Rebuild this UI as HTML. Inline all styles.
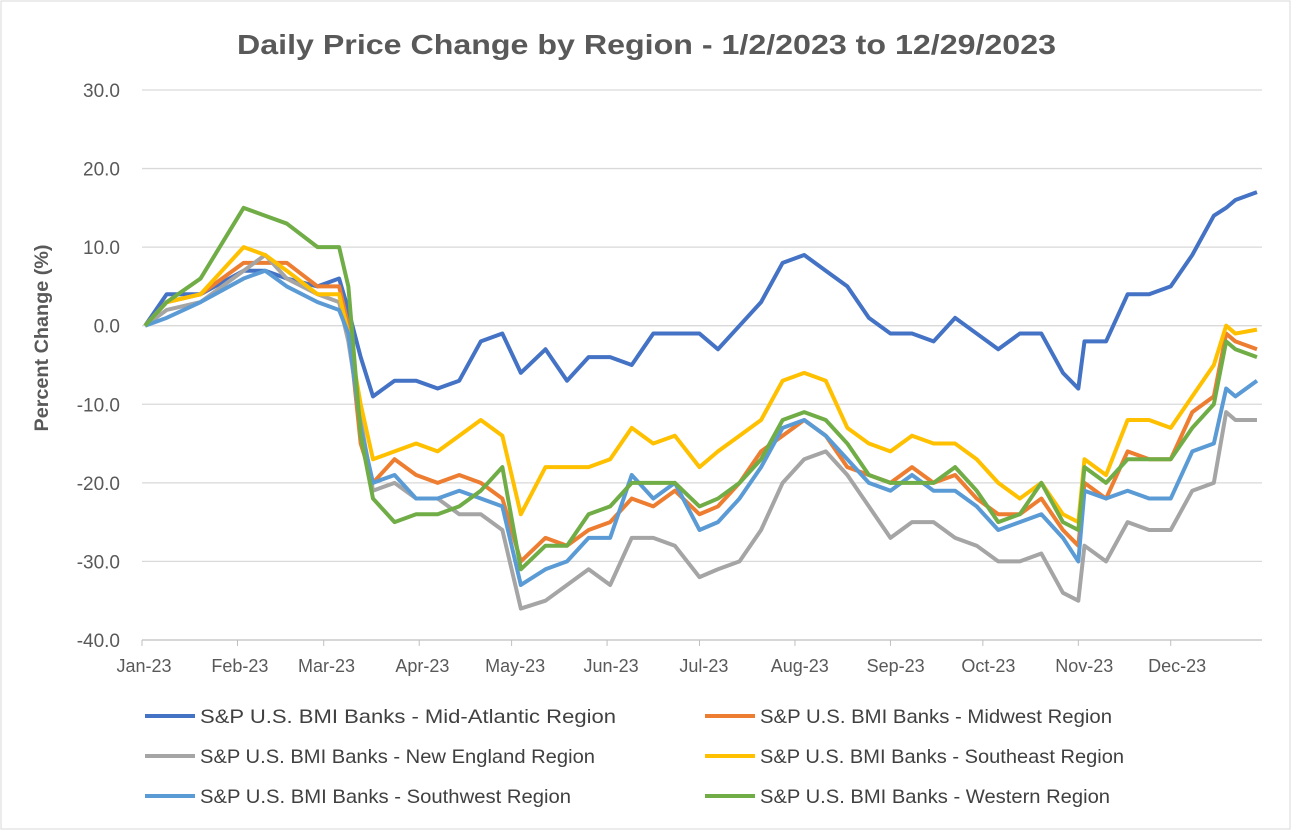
<!DOCTYPE html>
<html><head><meta charset="utf-8"><style>
body{margin:0;background:#fff;}
svg{display:block;font-family:"Liberation Sans",sans-serif;}
</style></head><body>
<svg id="chart" width="1292" height="831">
<rect x="1" y="1" width="1289" height="828" fill="#fff" stroke="#d9d9d9"/>
<text x="237" y="54" font-size="28" font-weight="bold" fill="#595959" textLength="819" lengthAdjust="spacingAndGlyphs">Daily Price Change by Region - 1/2/2023 to 12/29/2023</text>
<text transform="translate(48,338) rotate(-90)" text-anchor="middle" font-size="19" font-weight="bold" fill="#595959" textLength="187" lengthAdjust="spacingAndGlyphs">Percent Change (%)</text>
<g id="grid"></g><g id="series"></g><g id="legend"></g>
</svg>
<script>
const yTicks=[30,20,10,0,-10,-20,-30,-40];
const months=["Jan-23","Feb-23","Mar-23","Apr-23","May-23","Jun-23","Jul-23","Aug-23","Sep-23","Oct-23","Nov-23","Dec-23"];
const monthDays=[1,32,60,91,121,152,182,213,244,274,305,335];
const days=[2,9,20,34,41,48,58,65,68,72,76,83,90,97,104,111,118,124,132,139,146,153,160,167,174,182,188,195,202,209,216,223,230,237,244,251,258,265,272,279,286,293,300,305,307,314,321,328,335,342,349,353,356,363];
const midAtlantic=[0,4,4,7,7,6,5,6,2,-4,-9,-7,-7,-8,-7,-2,-1,-6,-3,-7,-4,-4,-5,-1,-1,-1,-3,0,3,8,9,7,5,1,-1,-1,-2,1,-1,-3,-1,-1,-6,-8,-2,-2,4,4,5,9,14,15,16,17];
const midwest=[0,3,4,8,8,8,5,5,0,-15,-20,-17,-19,-20,-19,-20,-22,-30,-27,-28,-26,-25,-22,-23,-21,-24,-23,-20,-16,-14,-12,-14,-18,-19,-20,-18,-20,-19,-22,-24,-24,-22,-26,-28,-20,-22,-16,-17,-17,-11,-9,-1,-2,-3];
const newEngland=[0,2,3,7,9,6,4,3,-2,-12,-21,-20,-22,-22,-24,-24,-26,-36,-35,-33,-31,-33,-27,-27,-28,-32,-31,-30,-26,-20,-17,-16,-19,-23,-27,-25,-25,-27,-28,-30,-30,-29,-34,-35,-28,-30,-25,-26,-26,-21,-20,-11,-12,-12];
const southeast=[0,3,4,10,9,7,4,4,-1,-10,-17,-16,-15,-16,-14,-12,-14,-24,-18,-18,-18,-17,-13,-15,-14,-18,-16,-14,-12,-7,-6,-7,-13,-15,-16,-14,-15,-15,-17,-20,-22,-20,-24,-25,-17,-19,-12,-12,-13,-9,-5,0,-1,-0.5];
const southwest=[0,1,3,6,7,5,3,2,-1,-13,-20,-19,-22,-22,-21,-22,-23,-33,-31,-30,-27,-27,-19,-22,-20,-26,-25,-22,-18,-13,-12,-14,-17,-20,-21,-19,-21,-21,-23,-26,-25,-24,-27,-30,-21,-22,-21,-22,-22,-16,-15,-8,-9,-7];
const western=[0,3,6,15,14,13,10,10,5,-14,-22,-25,-24,-24,-23,-21,-18,-31,-28,-28,-24,-23,-20,-20,-20,-23,-22,-20,-17,-12,-11,-12,-15,-19,-20,-20,-20,-18,-21,-25,-24,-20,-25,-26,-18,-20,-17,-17,-17,-13,-10,-2,-3,-4];
const seriesNames=["S&P U.S. BMI Banks - Mid-Atlantic Region","S&P U.S. BMI Banks - Midwest Region","S&P U.S. BMI Banks - New England Region","S&P U.S. BMI Banks - Southeast Region","S&P U.S. BMI Banks - Southwest Region","S&P U.S. BMI Banks - Western Region"];
const seriesData=[midAtlantic,midwest,newEngland,southeast,southwest,western];
const colors=["#4472c4","#ed7d31","#a5a5a5","#ffc000","#5b9bd5","#70ad47"];
const legendWidths=[416,352,395,364,371,350];
const NS="http://www.w3.org/2000/svg";
const X=d=>142+(d-1)*3.08;
const Y=v=>325.7-v*7.857;
function mk(tag,attrs,parent){const e=document.createElementNS(NS,tag);for(const k in attrs)e.setAttribute(k,attrs[k]);parent.appendChild(e);return e;}
const grid=document.getElementById('grid');
yTicks.forEach(t=>{
  const l=mk('line',{x1:142,x2:1262,y1:Y(t),y2:Y(t),stroke:t===-40?'#bfbfbf':'#d9d9d9','stroke-width':1.3},grid);
  
  
  const tx=mk('text',{x:120,y:Y(t)+7,'text-anchor':'end','font-size':19,fill:'#595959'},grid);
  tx.textContent=t.toFixed(1);
  
  
});
months.forEach((m,i)=>{
  const x=X(monthDays[i]);
  const tk=mk('line',{x1:x,x2:x,y1:Y(-40),y2:Y(-40)+6,stroke:'#bfbfbf'},grid);
  
  
  const tx=mk('text',{x:x+2+i*0.4,y:672,'text-anchor':'middle','font-size':18,fill:'#595959'},grid);
  tx.textContent=m;
  
  
});
const sg=document.getElementById('series');
seriesData.forEach((arr,i)=>{
  const p=mk('polyline',{points:arr.map((v,j)=>X(days[j])+','+Y(v)).join(' '),fill:'none',stroke:colors[i],'stroke-width':4,'stroke-linejoin':'round'},sg);
  
  
});
const lg=document.getElementById('legend');
seriesNames.forEach((n,i)=>{
  const col=i%2,row=Math.floor(i/2);
  const x0=col?705:145,y0=716+row*40;
  const l=mk('line',{x1:x0,x2:x0+50,y1:y0,y2:y0,stroke:colors[i],'stroke-width':4},lg);
  
  
  const t=mk('text',{x:x0+55,y:y0+7,'font-size':19.5,fill:'#404040',textLength:legendWidths[i],lengthAdjust:'spacingAndGlyphs'},lg);
  t.textContent=n;
  
  
});
</script>
</body></html>
